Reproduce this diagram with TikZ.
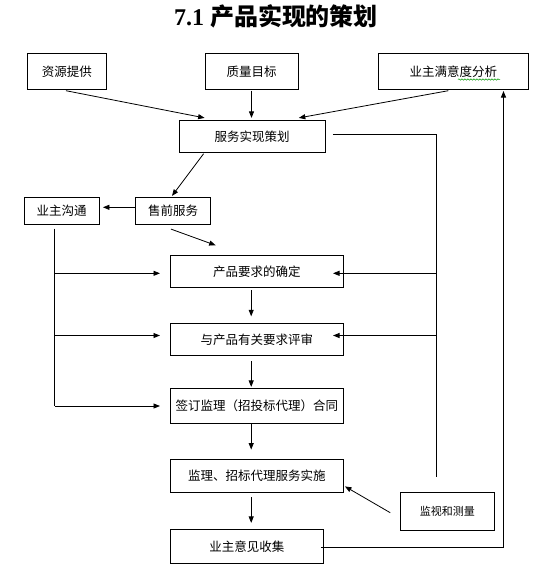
\documentclass[tikz,border=0pt]{standalone}
\usepackage{fontspec}
\setmainfont{Noto Sans CJK SC}
\newfontfamily\titlelatin{Liberation Serif}
\usetikzlibrary{calc,arrows.meta,decorations.pathmorphing}
\begin{document}
\begin{tikzpicture}[x=1pt,y=-1pt,
  box/.style={draw,line width=0.8pt,inner sep=0pt,font=\fontsize{12.5}{14}\selectfont},
  conn/.style={line width=0.8pt},
  arr/.style={conn,-{Triangle[length=6.5pt,width=5pt]}}]
\useasboundingbox (0,0) rectangle (552,566);
% title
\node (title) at (276,16) {\fontsize{24}{28}\selectfont\bfseries{\titlelatin 7.1 }产品实现的策划};
% boxes
\node[box,minimum width=78.4,minimum height=36] (zy) at (66.8,71.3) {资源提供};
\node[box,minimum width=93,minimum height=36] (zl) at (251.5,71.3) {质量目标};
\node[box,minimum width=150.6,minimum height=36] (my) at (453.3,71.3) {业主满意度分析};
\node[box,minimum width=146.4,minimum height=32] (fw) at (252.2,136.3) {服务实现策划};
\node[box,minimum width=74.6,minimum height=27] (gt) at (61.7,210.8) {业主沟通};
\node[box,minimum width=75,minimum height=27] (sq) at (173.2,210.8) {售前服务};
\node[box,minimum width=173.5,minimum height=32] (qd) at (256.8,271.3) {产品要求的确定};
\node[box,minimum width=173.5,minimum height=32] (ps) at (256.8,339.3) {与产品有关要求评审};
\node[box,minimum width=173.5,minimum height=35] (ht) at (256.8,405.8) {签订监理（招投标代理）合同};
\node[box,minimum width=173.5,minimum height=33] (ss) at (256.8,475.8) {监理、招标代理服务实施};
\node[box,minimum width=93.3,minimum height=37.5,font=\fontsize{11}{13}\selectfont] (jl) at (447.3,511.3) {监视和测量};
\node[box,minimum width=153.7,minimum height=34] (yj) at (246.8,546.3) {业主意见收集};
% spelling underline
\draw[green!60!black,line width=0.5pt,decorate,decoration={snake,amplitude=0.7pt,segment length=3pt}] (458,79.5) -- (500,79.5);
% top arrows
\draw[arr] ($(zy.south)+(-0.8,1)$) -- ($(fw.north west)+(26,-2)$);
\draw[arr] ($(zl.south)+(0,1)$) -- ($(zl.south|-fw.north)+(0,-2)$);
\draw[arr] ($(my.south)+(-5,1)$) -- ($(fw.north east)+(-27,-2)$);
% right feedback line
\coordinate (r1) at (436.7,134.7);
\coordinate (r2) at (436.7,476.7);
\draw[conn] ($(fw.east)+(7,-1.6)$) -- (r1) -- (r2);
\draw[arr] (r1|-0,273.3) -- (333,273.3);
\draw[arr] (r1|-0,335.5) -- (333,335.5);
% planning to pre-sale
\draw[arr] ($(fw.south west)+(25,1)$) -- ($(sq.north)+(-1.2,-1)$);
\draw[arr] ($(sq.west)+(0,-3.5)$) -- ($(gt.east)+(3.5,-3.5)$);
\draw[arr] ($(sq.south)+(-2.2,4.4)$) -- ($(qd.north west)+(46,-9.6)$);
% left owner line
\coordinate (l0) at (54.8,228.7);
\coordinate (l3) at (54.8,406);
\draw[conn] (l0) -- (l3);
\draw[arr] (l0|-0,273.3) -- (160,273.3);
\draw[arr] (l0|-0,335.5) -- (160,335.5);
\draw[arr] (l3) -- (160,406);
% main chain
\draw[arr] ($(qd.south)+(-5.6,2.7)$) -- ($(ps.north)+(-5.6,-6.6)$);
\draw[arr] ($(ps.south)+(-5.6,5.7)$) -- ($(ht.north)+(-5.6,-1)$);
\draw[arr] ($(ht.south)+(-5.6,0)$) -- ($(ss.north)+(-5.6,-9.3)$);
\draw[arr] ($(ss.south)+(-5.6,4.4)$) -- ($(yj.north)+(4.4,-6)$);
% monitoring
\draw[arr] ($(jl.west)+(-10,1.4)$) -- ($(ss.south east)+(1,-6.3)$);
% customer feedback
\coordinate (fb) at (503.5,547.3);
\draw[conn] ($(yj.east)+(-3,1)$) -- (fb);
\draw[arr] (fb) -- (503.5,91);
\end{tikzpicture}
\end{document}
